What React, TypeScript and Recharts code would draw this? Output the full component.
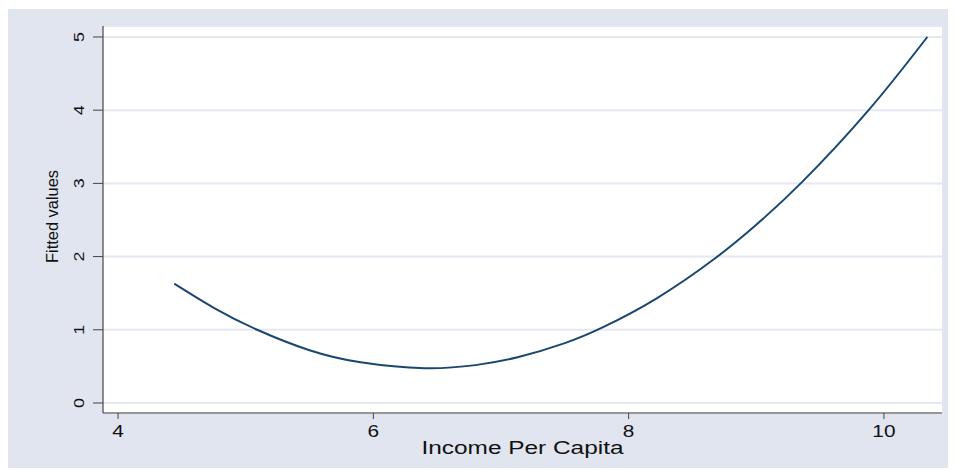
import { LineChart, Line, XAxis, YAxis, CartesianGrid } from 'recharts'

// fitted curve
const income = [4.44, 4.75, 5.09, 5.5, 5.9, 6.4, 6.8, 7.13, 7.5, 7.8, 8.22, 8.67, 9.0, 9.36, 9.88, 10.34]
const fitted = [1.63, 1.3, 1.0, 0.72, 0.555, 0.475, 0.517, 0.624, 0.818, 1.036, 1.43, 1.966, 2.435, 3.02, 4.0, 5.0]
const xTicks = [4, 6, 8, 10]
const yTicks = [0, 1, 2, 3, 4, 5]

const data = income.map((x, i) => ({ x, y: fitted[i] }))

const BG = '#e0e5ef'
const NAVY = '#1a476f'
const FONT = '"Liberation Sans", Arial, sans-serif'

function XTick({ x, y, payload }: any) {
  return (
    <text transform={`translate(${x},${y + 16}) scale(1.3,1)`} textAnchor="middle" fontSize={16} fontFamily={FONT} fill="#111">
      {payload.value}
    </text>
  )
}

function YTick({ x, y, payload }: any) {
  return (
    <text transform={`translate(${x - 7},${y}) rotate(-90) scale(1.28,1)`} textAnchor="middle" fontSize={14} fontFamily={FONT} fill="#111">
      {payload.value}
    </text>
  )
}

function XTitle({ viewBox }: any) {
  const cx = viewBox.x + viewBox.width / 2
  return (
    <text x={cx} y={viewBox.y + 40.5} textAnchor="middle" fontSize={17.5} fontFamily={FONT} fill="#111"
      textLength={202} lengthAdjust="spacingAndGlyphs">
      Income Per Capita
    </text>
  )
}

function YTitle({ viewBox }: any) {
  const cy = viewBox.y + viewBox.height / 2
  return (
    <text transform={`translate(50.3,${cy - 3}) rotate(-90)`} textAnchor="middle" fontSize={16} fontFamily={FONT} fill="#111"
      textLength={93} lengthAdjust="spacingAndGlyphs">
      Fitted values
    </text>
  )
}

export default function App() {
  return (
    <div style={{ width: 948, height: 460, background: BG, position: 'relative', top: 1 }}>
      <LineChart width={948} height={460} data={data} margin={{ top: 17, right: 14, left: 0, bottom: 10 }}>
        <CartesianGrid vertical={false} fill="#ffffff" fillOpacity={1} stroke="#e4e8f1" strokeWidth={2} />
        <XAxis
          type="number" dataKey="x" domain={[3.882, 10.455]} ticks={xTicks} allowDataOverflow
          height={46} tickSize={6} tick={<XTick />}
          axisLine={{ stroke: '#444', strokeWidth: 1.2 }} tickLine={{ stroke: '#444' }}
          label={<XTitle />}
        />
        <YAxis
          type="number" domain={[-0.137, 5.15]} ticks={yTicks} allowDataOverflow
          width={95} tickSize={10} tick={<YTick />}
          axisLine={{ stroke: '#444', strokeWidth: 1.2 }} tickLine={{ stroke: '#444' }}
          label={<YTitle />}
        />
        <Line type="natural" dataKey="y" stroke={NAVY} strokeWidth={2} dot={false} isAnimationActive={false} />
      </LineChart>
    </div>
  )
}
